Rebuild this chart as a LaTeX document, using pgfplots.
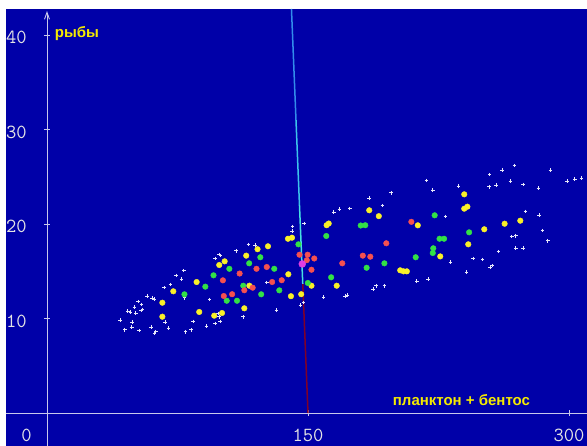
\documentclass[border=0pt]{standalone}
\usepackage{fontspec}
\usepackage{pgfplots}
\pgfplotsset{compat=1.18}
\usetikzlibrary{arrows.meta}
\newfontfamily\labfont{Liberation Sans}
\definecolor{bg}{RGB}{0,0,168}
\definecolor{axcol}{RGB}{200,200,235}
\definecolor{tickcol}{RGB}{228,228,228}
\definecolor{ylw}{RGB}{250,240,40}
\definecolor{grn}{RGB}{50,225,70}
\definecolor{rd}{RGB}{245,80,80}
\definecolor{mag}{RGB}{225,60,225}
\definecolor{wht}{RGB}{230,230,250}
\definecolor{cya}{RGB}{50,140,235}
\definecolor{cyb}{RGB}{60,195,235}
\definecolor{cyc}{RGB}{70,225,225}
\definecolor{drd}{RGB}{128,0,40}
\definecolor{lab}{RGB}{245,235,0}
\begin{document}
\begin{tikzpicture}
\fill[white] (0,0) rectangle (587pt,446pt);
\begin{axis}[
 at={(6pt,0pt)}, anchor=south west,
 scale only axis, width=581pt, height=437pt,
 xmin=-23.56, xmax=310.34, ymin=-3.49, ymax=42.75,
 axis lines=middle,
 axis background/.style={fill=bg},
 axis line style={draw=axcol, line width=0.9pt},
 x axis line style={-},
 y axis line style={-{Straight Barb[length=7pt,width=5pt]}, shorten >=2pt},
 xtick={150,300}, xticklabels={150,300},
 ytick={10,20,30,40}, yticklabels={10,20,30,40},
 major tick length=6pt,
 tick style={draw=axcol, line width=0.9pt},
 tick align=center,
 tick label style={font=\ttfamily\fontsize{20}{24}\selectfont, text=tickcol, inner sep=0pt},
 xticklabel style={anchor=north, yshift=-13pt},
 yticklabel style={anchor=east, xshift=-17pt, yshift=-2.5pt},
 clip=false,
]
\addplot[draw=cya, line width=1.5pt] coordinates {(140.5,42.75) (143.1,31)};
\addplot[draw=cyb, line width=1.5pt] coordinates {(143.1,31) (145.1,22)};
\addplot[draw=cyc, line width=1.5pt] coordinates {(145.1,22) (147.0,13.65)};
\addplot[draw=drd, line width=1.5pt] coordinates {(147.0,13.65) (150,0)};
% white
\addplot[only marks, mark=+, mark size=1.8pt, mark options={draw=wht, line width=0.9pt}] coordinates {
(42.1,9.81) (44.7,8.81) (46.4,10.79) (48.1,10.69) (49.0,9.60) (48.7,9.10) (50.2,11.19) (51.1,10.58) (52.3,11.78) (53.0,8.71) (54.0,10.83) (55.0,10.97) (54.4,11.50) (57.6,12.38) (60.5,12.17) (61.5,12.06) (59.8,9.10) (62.5,8.60) (61.7,8.47) (67.4,13.26) (67.8,9.60) (69.9,8.99) (70.9,13.58) (74.3,14.57) (77.4,14.15) (78.6,15.06) (79.1,12.20) (79.7,8.60) (82.9,8.81) (83.9,9.70) (91.6,9.21) (93.5,11.99) (96.7,16.37) (96.7,9.49) (98.4,10.55) (99.0,10.19) (99.4,9.70) (98.9,16.79) (99.8,16.65) (108.6,17.17) (112.8,10.19) (115.7,17.85) (119.7,17.75) (126.3,13.81) (131.8,10.87) (141.2,19.74) (140.8,19.23) (147.7,20.05) (145.6,11.40) (147.3,11.71) (159.0,12.28) (164.9,21.24) (168.0,21.59) (174.0,21.64) (171.3,12.35) (172.6,12.46) (185.2,22.72) (187.5,13.12) (189.1,13.47) (192.7,21.94) (193.9,13.47) (197.7,23.31) (212.6,13.97) (218.0,24.60) (219.1,14.18) (221.8,23.60) (229.1,20.81) (231.9,15.95) (236.4,24.02) (241.0,14.89) (244.8,16.37) (250.2,16.26) (254.4,25.22) (254.0,23.92) (258.2,24.10) (254.6,15.45) (256.1,15.59) (259.4,17.07) (261.5,25.71) (266.3,24.52) (267.1,18.66) (269.5,18.76) (268.6,26.21) (269.5,17.46) (273.7,17.43) (273.7,24.20) (274.9,21.34) (282.4,23.81) (282.9,20.92) (284.7,19.33) (287.8,18.23) (289.3,25.71) (299.0,24.52) (303.3,24.73) (307.1,24.84)
};
% yellow
\addplot[only marks, mark=*, mark size=2.8pt, mark options={fill=ylw, draw=ylw}] coordinates {
(66.3,11.67) (66.3,10.19) (72.6,12.88) (86.0,13.86) (87.5,10.69) (96.1,10.30) (100.6,10.58) (99.0,15.66) (102.1,16.05) (113.4,11.08) (114.5,16.65) (116.3,13.47) (121.0,17.33) (127.0,17.64) (138.5,18.44) (140.8,18.55) (138.7,14.68) (140.2,12.36) (146.1,12.57) (152.0,13.47) (160.7,19.87) (161.9,20.05) (166.5,13.47) (185.2,21.45) (190.7,20.83) (203.0,15.10) (204.9,14.99) (206.8,14.99) (213.1,19.86) (226.0,16.57) (239.8,23.14) (239.8,21.62) (241.6,21.83) (242.1,17.85) (251.3,19.44) (263.0,20.03) (272.0,20.35)
};
% green
\addplot[only marks, mark=*, mark size=2.8pt, mark options={fill=grn, draw=grn}] coordinates {
(79.0,12.56) (91.0,13.37) (95.7,14.57) (103.3,11.88) (104.8,15.26) (109.2,11.88) (112.8,13.47) (116.2,15.84) (122.6,16.48) (123.1,12.56) (130.6,15.26) (133.5,12.98) (144.5,17.85) (149.9,13.76) (160.5,18.73) (163.3,14.36) (180.3,19.84) (182.9,19.87) (183.7,15.37) (193.9,15.84) (211.9,16.48) (222.0,17.43) (221.7,16.93) (222.8,20.92) (225.6,18.44) (228.2,18.44) (242.6,19.12)
};
% red
\addplot[only marks, mark=*, mark size=2.8pt, mark options={fill=rd, draw=rd}] coordinates {
(101.6,12.38) (101.1,14.04) (106.4,12.57) (110.7,14.76) (113.4,12.99) (118.2,13.26) (120.4,15.26) (126.3,15.45) (129.4,13.86) (134.9,14.05) (145.1,16.75) (149.8,16.75) (153.6,16.35) (149.3,16.17) (152.0,15.16) (169.7,15.84) (181.5,16.65) (185.8,16.54) (195.0,17.96) (209.4,20.23)
};
% magenta
\addplot[only marks, mark=*, mark size=3.5pt, mark options={fill=mag, draw=mag}] coordinates {(146.7,15.77)};
\node[font=\labfont\bfseries\fontsize{15}{18}\selectfont, text=lab] at (axis cs:17.2,40.1) {рыбы};
\node[font=\labfont\bfseries\fontsize{15}{18}\selectfont, text=lab] at (axis cs:238.2,1.38) {планктон + бентос};
\node[font=\ttfamily\fontsize{20}{24}\selectfont, text=tickcol, inner sep=0pt] at (axis cs:-11.8,-2.35) {0};
\end{axis}
\pgfresetboundingbox
\path (0,0) rectangle (587pt,446pt);
\end{tikzpicture}
\end{document}
